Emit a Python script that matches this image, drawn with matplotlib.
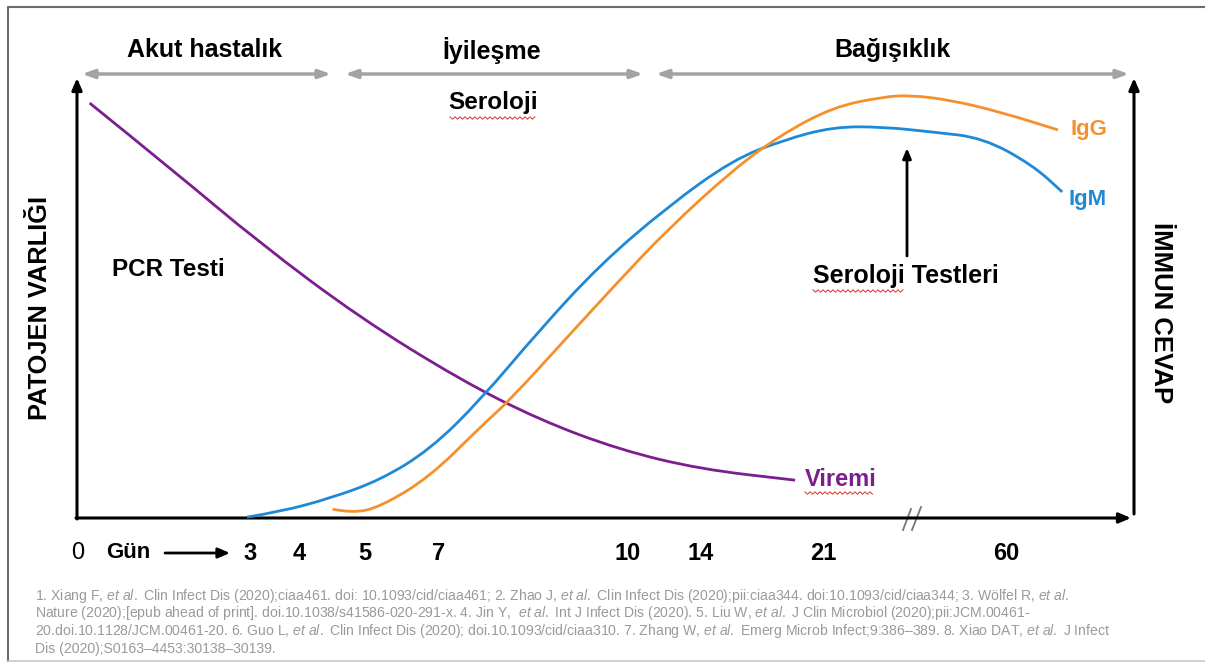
import matplotlib
matplotlib.use("Agg")
import matplotlib.pyplot as plt
from matplotlib.path import Path
from matplotlib.patches import PathPatch

plt.rcParams['font.family'] = ['Liberation Sans', 'DejaVu Sans']
plt.rcParams['mathtext.fontset'] = 'custom'
plt.rcParams['mathtext.rm'] = 'Liberation Sans'
plt.rcParams['mathtext.it'] = 'Liberation Sans:italic'

# curve readings, x = share of the time axis (0-100), y = height (0-100)
viremi_x = [1.2, 9.3, 17.3, 26.8, 36.3, 43.8, 51.4, 59.0, 68.0]
viremi_y = [94.3, 78.6, 62.5, 45.5, 31.4, 22.3, 15.5, 11.1, 8.6]

igm_x = [16.1, 19.2, 24.0, 28.7, 33.4, 38.2, 43.8, 49.5, 55.9, 62.1, 66.9, 71.6, 76.3, 81.1, 85.8, 90.5, 93.3]
igm_y = [0.2, 1.4, 4.5, 8.6, 15.5, 26.8, 42.7, 57.5, 70.7, 81.4, 85.9, 88.9, 88.9, 87.7, 86.4, 80.2, 74.1]

igg_x = [24.2, 26.1, 28.7, 33.4, 38.2, 41.0, 46.2, 51.4, 55.9, 62.1, 66.6, 71.6, 76.3, 78.9, 82.7, 87.4, 92.9]
igg_y = [2.0, 1.1, 2.5, 9.3, 20.7, 26.8, 40.5, 54.1, 65.5, 79.1, 87.0, 93.4, 95.7, 96.1, 95.0, 92.3, 88.2]

day_labels = ["3", "4", "5", "7", "10", "14", "21", "60"]
day_pos = [16.4, 21.0, 27.3, 34.2, 52.1, 59.1, 70.7, 88.0]

phases = ["Akut hastalık", "İyileşme", "Bağışıklık"]

refs = [
    "1. Xiang F, $\\it{et\\ al.}$ Clin Infect Dis (2020);ciaa461. doi: 10.1093/cid/ciaa461; 2. Zhao J, $\\it{et\\ al.}$ Clin Infect Dis (2020);pii:ciaa344. doi:10.1093/cid/ciaa344; 3. Wölfel R, $\\it{et\\ al.}$",
    "Nature (2020);[epub ahead of print]. doi.10.1038/s41586-020-291-x. 4. Jin Y,  $\\it{et\\ al.}$ Int J Infect Dis (2020). 5. Liu W, $\\it{et\\ al.}$ J Clin Microbiol (2020);pii:JCM.00461-",
    "20.doi.10.1128/JCM.00461-20. 6. Guo L, $\\it{et\\ al.}$ Clin Infect Dis (2020); doi.10.1093/cid/ciaa310. 7. Zhang W, $\\it{et\\ al.}$ Emerg Microb Infect;9:386–389. 8. Xiao DAT, $\\it{et\\ al.}$ J Infect",
    "Dis (2020);S0163–4453:30138–30139.",
]

PURPLE = '#7b1f8e'
BLUE = '#1f89d6'
ORANGE = '#f5912c'
GREY = '#a3a3a3'


def smooth_path(xs, ys):
    # quadratic bezier through the midpoints of the read points
    pts = list(zip(xs, ys))
    verts = [pts[0]]
    codes = [Path.MOVETO]
    for i in range(1, len(pts) - 1):
        mid = ((pts[i][0] + pts[i + 1][0]) / 2, (pts[i][1] + pts[i + 1][1]) / 2)
        verts += [pts[i], mid]
        codes += [Path.CURVE3, Path.CURVE3]
    verts.append(pts[-1])
    codes.append(Path.LINETO)
    return Path(verts, codes)


def squiggle(axd, x0, x1, y):
    xs = []
    ys = []
    x = x0
    k = 0
    while x <= x1:
        xs.append(x)
        ys.append(y + (1.2 if k % 2 else -1.2))
        x += 2.5
        k += 1
    axd.plot(xs, ys, color='#e0302a', lw=0.7)


W, H = 1205, 671
fig = plt.figure(figsize=(W / 100, H / 100), dpi=100)

# decoration layer in pixel coordinates
deco = fig.add_axes([0, 0, 1, 1])
deco.set_xlim(0, W)
deco.set_ylim(H, 0)
deco.axis('off')

# chart area
ax = fig.add_axes([77 / W, (H - 518) / H, 1056 / W, 440 / H])
ax.set_xlim(0, 100)
ax.set_ylim(0, 100)
ax.axis('off')
ax.patch.set_visible(False)

for xs, ys, c in [(viremi_x, viremi_y, PURPLE), (igm_x, igm_y, BLUE), (igg_x, igg_y, ORANGE)]:
    ax.add_patch(PathPatch(smooth_path(xs, ys), fill=False, edgecolor=c, lw=2, clip_on=False))

# frame
deco.plot([8, 8, W], [H - 10, 7, 7], color='#6b6b6b', lw=1.5)
deco.plot([8, W], [H - 10, H - 10], color='#c8c8c8', lw=1.2)

# axes arrows
ak = dict(arrowstyle='-|>,head_length=0.7,head_width=0.3', color='black', lw=2.2,
          shrinkA=0, shrinkB=0)
deco.annotate('', xy=(77, 78), xytext=(77, 519), arrowprops=ak)
deco.annotate('', xy=(1131, 518), xytext=(76, 518), arrowprops=ak)
deco.annotate('', xy=(1134, 78), xytext=(1134, 514), arrowprops=ak)

# axis break
deco.plot([903, 911], [530, 509], color='#777777', lw=1.3)
deco.plot([912, 921], [530, 507], color='#777777', lw=1.3)

# phase arrows and titles
gk = dict(arrowstyle='<|-|>,head_length=0.7,head_width=0.25', color=GREY, lw=2.5,
          shrinkA=0, shrinkB=0)
for (x0, x1), xc, name in zip([(82, 331), (345, 643), (656, 1129)], [205, 492, 893], phases):
    deco.annotate('', xy=(x1, 74), xytext=(x0, 74), arrowprops=gk)
    deco.text(xc, 50, name, ha='center', va='center', fontsize=18, fontweight='bold')

deco.text(493, 103, "Seroloji", ha='center', va='center', fontsize=17.5, fontweight='bold')
squiggle(deco, 450, 537, 118)

deco.text(112, 270, "PCR Testi", ha='left', va='center', fontsize=17.5, fontweight='bold')
deco.text(906, 276, "Seroloji Testleri", ha='center', va='center', fontsize=18, fontweight='bold')
squiggle(deco, 813, 905, 291)
deco.annotate('', xy=(907, 148), xytext=(907, 256),
              arrowprops=dict(arrowstyle='-|>,head_length=0.6,head_width=0.25', color='black',
                              lw=2, shrinkA=0, shrinkB=0))

deco.text(1070, 129, "IgG", ha='left', va='center', fontsize=16, fontweight='bold', color=ORANGE)
deco.text(1068, 200, "IgM", ha='left', va='center', fontsize=16, fontweight='bold', color=BLUE)
deco.text(805, 479, "Viremi", ha='left', va='center', fontsize=17, fontweight='bold', color=PURPLE)
squiggle(deco, 805, 873, 493)

deco.text(40, 308, "PATOJEN VARLIĞI", rotation=90, ha='center', va='center',
          fontsize=18.3, fontweight='bold')
deco.text(1161, 313, "İMMUN CEVAP", rotation=-90, ha='center', va='center',
          fontsize=18.5, fontweight='bold')

# day labels
tx = ax.get_xaxis_transform()
ax.text(0.1, -0.08, "0", transform=tx, ha='center', va='center', fontsize=17)
deco.text(128, 553, "Gün", ha='center', va='center', fontsize=16, fontweight='bold')
deco.annotate('', xy=(230, 553), xytext=(165, 553),
              arrowprops=dict(arrowstyle='-|>,head_length=0.7,head_width=0.3', color='black',
                              lw=2, shrinkA=0, shrinkB=0))
for p, lab in zip(day_pos, day_labels):
    ax.text(p, -0.08, lab, transform=tx, ha='center', va='center', fontsize=17, fontweight='bold')

# references
for i, line in enumerate(refs):
    deco.text(35, 596 + i * 17.5, line, ha='left', va='center', fontsize=10.1,
              color='#9a9a9a', family=['Liberation Sans Narrow', 'Liberation Sans'])

fig.savefig("out.png", dpi=100)
